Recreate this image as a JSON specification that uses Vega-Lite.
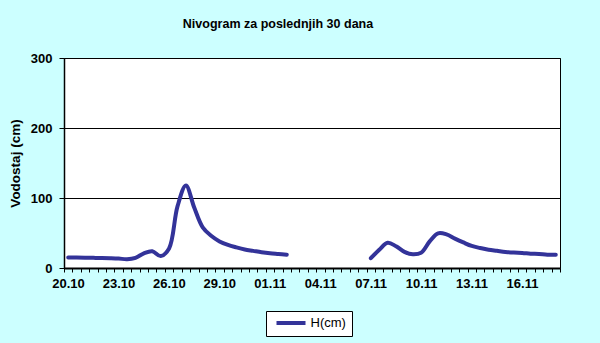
{
  "$schema": "https://vega.github.io/schema/vega-lite/v6.json",
  "width": 496,
  "height": 210,
  "autosize": "none",
  "padding": {"left": 64, "top": 58, "right": 40, "bottom": 75},
  "background": "#CCFFFF",
  "title": {
    "text": "Nivogram za poslednjih 30 dana",
    "font": "Liberation Sans",
    "fontSize": 12.5,
    "fontWeight": "bold",
    "color": "black",
    "frame": "group",
    "anchor": "middle",
    "dx": -34,
    "offset": 22
  },
  "config": {
    "view": {"stroke": "black", "strokeWidth": 1, "fill": "white"}
  },
  "data": {
    "values": [
      {"t": "2024-10-20T06:00:00Z", "h": 15, "seg": 1},
      {"t": "2024-10-20T18:00:00Z", "h": 15, "seg": 1},
      {"t": "2024-10-21T06:00:00Z", "h": 14.8, "seg": 1},
      {"t": "2024-10-21T18:00:00Z", "h": 14.5, "seg": 1},
      {"t": "2024-10-22T06:00:00Z", "h": 14.3, "seg": 1},
      {"t": "2024-10-22T18:00:00Z", "h": 14, "seg": 1},
      {"t": "2024-10-23T06:00:00Z", "h": 13.5, "seg": 1},
      {"t": "2024-10-23T18:00:00Z", "h": 12.5, "seg": 1},
      {"t": "2024-10-24T06:00:00Z", "h": 14.5, "seg": 1},
      {"t": "2024-10-24T18:00:00Z", "h": 21, "seg": 1},
      {"t": "2024-10-25T06:00:00Z", "h": 24, "seg": 1},
      {"t": "2024-10-25T18:00:00Z", "h": 17, "seg": 1},
      {"t": "2024-10-26T06:00:00Z", "h": 28, "seg": 1},
      {"t": "2024-10-26T18:00:00Z", "h": 88, "seg": 1},
      {"t": "2024-10-27T06:00:00Z", "h": 118, "seg": 1},
      {"t": "2024-10-27T18:00:00Z", "h": 86, "seg": 1},
      {"t": "2024-10-28T06:00:00Z", "h": 58, "seg": 1},
      {"t": "2024-10-28T18:00:00Z", "h": 46, "seg": 1},
      {"t": "2024-10-29T06:00:00Z", "h": 38, "seg": 1},
      {"t": "2024-10-29T18:00:00Z", "h": 33, "seg": 1},
      {"t": "2024-10-30T06:00:00Z", "h": 29.5, "seg": 1},
      {"t": "2024-10-30T18:00:00Z", "h": 26.5, "seg": 1},
      {"t": "2024-10-31T06:00:00Z", "h": 24.5, "seg": 1},
      {"t": "2024-10-31T18:00:00Z", "h": 22.5, "seg": 1},
      {"t": "2024-11-01T06:00:00Z", "h": 21, "seg": 1},
      {"t": "2024-11-01T18:00:00Z", "h": 20, "seg": 1},
      {"t": "2024-11-02T06:00:00Z", "h": 19, "seg": 1},
      {"t": "2024-11-07T06:00:00Z", "h": 14, "seg": 2},
      {"t": "2024-11-07T18:00:00Z", "h": 26, "seg": 2},
      {"t": "2024-11-08T06:00:00Z", "h": 36, "seg": 2},
      {"t": "2024-11-08T18:00:00Z", "h": 31, "seg": 2},
      {"t": "2024-11-09T06:00:00Z", "h": 23, "seg": 2},
      {"t": "2024-11-09T18:00:00Z", "h": 19.5, "seg": 2},
      {"t": "2024-11-10T06:00:00Z", "h": 22, "seg": 2},
      {"t": "2024-11-10T18:00:00Z", "h": 38, "seg": 2},
      {"t": "2024-11-11T06:00:00Z", "h": 49.5, "seg": 2},
      {"t": "2024-11-11T18:00:00Z", "h": 48, "seg": 2},
      {"t": "2024-11-12T06:00:00Z", "h": 42, "seg": 2},
      {"t": "2024-11-12T18:00:00Z", "h": 36.5, "seg": 2},
      {"t": "2024-11-13T06:00:00Z", "h": 31.5, "seg": 2},
      {"t": "2024-11-13T18:00:00Z", "h": 28.5, "seg": 2},
      {"t": "2024-11-14T06:00:00Z", "h": 26, "seg": 2},
      {"t": "2024-11-14T18:00:00Z", "h": 24.5, "seg": 2},
      {"t": "2024-11-15T06:00:00Z", "h": 23, "seg": 2},
      {"t": "2024-11-15T18:00:00Z", "h": 22, "seg": 2},
      {"t": "2024-11-16T06:00:00Z", "h": 21.5, "seg": 2},
      {"t": "2024-11-16T18:00:00Z", "h": 20.5, "seg": 2},
      {"t": "2024-11-17T06:00:00Z", "h": 20, "seg": 2},
      {"t": "2024-11-17T18:00:00Z", "h": 19, "seg": 2},
      {"t": "2024-11-18T06:00:00Z", "h": 19, "seg": 2}
    ]
  },
  "mark": {
    "type": "line",
    "strokeWidth": 4,
    "strokeCap": "round",
    "strokeJoin": "round",
    "interpolate": "catmull-rom"
  },
  "encoding": {
    "x": {
      "field": "t",
      "type": "temporal",
      "scale": {
        "type": "utc",
        "domain": [
          {"year": 2024, "month": 10, "date": 20, "hours": 0, "utc": true},
          {"year": 2024, "month": 11, "date": 18, "hours": 12, "utc": true}
        ],
        "nice": false
      },
      "axis": {
        "title": null,
        "tickCount": 60,
        "format": "%d.%m",
        "labelExpr": "(utchours(datum.value) == 0 && indexof(['20.10','23.10','26.10','29.10','01.11','04.11','07.11','10.11','13.11','16.11'], datum.label) >= 0) ? datum.label : ''",
        "labelFont": "Liberation Sans",
        "labelFontSize": 13,
        "labelFontWeight": "bold",
        "labelColor": "black",
        "labelOverlap": false,
        "labelFlush": false,
        "labelBound": false,
        "labelOffset": 4,
        "labelPadding": 5,
        "tickSize": 4,
        "tickColor": "black",
        "tickWidth": 1,
        "domainColor": "black",
        "domainWidth": 2,
        "grid": false
      }
    },
    "y": {
      "field": "h",
      "type": "quantitative",
      "scale": {"domain": [0, 300], "nice": false},
      "axis": {
        "title": "Vodostaj (cm)",
        "values": [0, 100, 200, 300],
        "grid": true,
        "gridColor": "black",
        "gridOpacity": 1,
        "gridWidth": 1,
        "tickColor": "black",
        "tickSize": 5,
        "domainColor": "black",
        "domainWidth": 1.5,
        "labelFont": "Liberation Sans",
        "labelFontSize": 13,
        "labelFontWeight": "bold",
        "labelColor": "black",
        "labelPadding": 7,
        "titleFont": "Liberation Sans",
        "titleFontSize": 13.5,
        "titleFontWeight": "bold",
        "titleColor": "black",
        "titlePadding": 8
      }
    },
    "detail": {"field": "seg", "type": "nominal"},
    "color": {
      "datum": "H(cm)",
      "type": "nominal",
      "scale": {"range": ["#333399"]},
      "legend": {
        "title": null,
        "orient": "none",
        "legendX": 202,
        "legendY": 253,
        "fillColor": "white",
        "strokeColor": "black",
        "padding": 5.5,
        "clipHeight": 13,
        "symbolType": "stroke",
        "symbolSize": 841,
        "symbolStrokeWidth": 4,
        "symbolOffset": 3,
        "labelOffset": 3,
        "labelFont": "Liberation Sans",
        "labelFontSize": 13,
        "labelColor": "black"
      }
    }
  }
}
